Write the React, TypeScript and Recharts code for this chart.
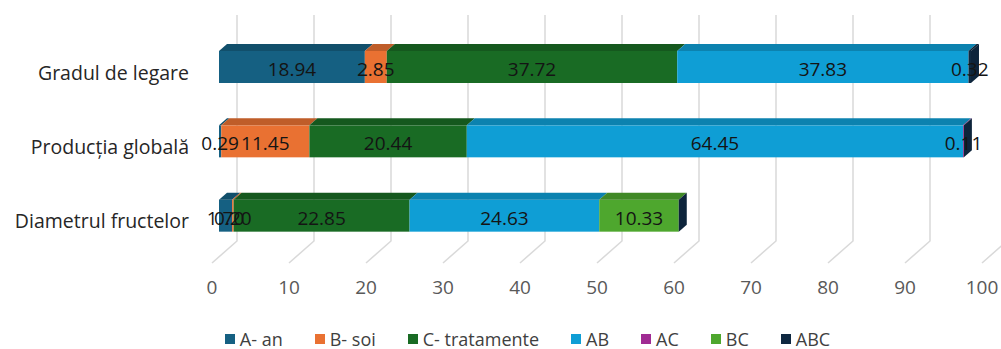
import React from "react";
import {
  BarChart,
  Bar,
  XAxis,
  YAxis,
  CartesianGrid,
  Legend,
  LabelList,
} from "recharts";

const categories = ["Gradul de legare", "Producția globală", "Diametrul fructelor"];
const aAn = [18.94, 0.29, 1.7];
const bSoi = [2.85, 11.45, 0.2];
const cTratamente = [37.72, 20.44, 22.85];
const ab = [37.83, 64.45, 24.63];
const ac = [0, 0.11, 0];
const bc = [0, 0, 10.33];
const abc = [0.32, 0, 0];
const xTicks = [0, 10, 20, 30, 40, 50, 60, 70, 80, 90, 100];

const SERIES = [
  { key: "a", name: "A- an", color: "#156082", values: aAn },
  { key: "b", name: "B- soi", color: "#E97132", values: bSoi },
  { key: "c", name: "C- tratamente", color: "#196B24", values: cTratamente },
  { key: "ab", name: "AB", color: "#0F9ED5", values: ab },
  { key: "ac", name: "AC", color: "#A02B93", values: ac },
  { key: "bc", name: "BC", color: "#4EA72E", values: bc },
  { key: "abc", name: "ABC", color: "#0E2841", values: abc },
];

const data = categories.map((name, i) => {
  const row: Record<string, string | number> = { name };
  for (const s of SERIES) row[s.key] = s.values[i];
  return row;
});

const FONT = "'Open Sans', 'Liberation Sans', sans-serif";
const DX = 8; // 3d depth offset
const DY = 7;

function darken(hex: string, f: number) {
  const n = parseInt(hex.slice(1), 16);
  const r = Math.round(((n >> 16) & 255) * f);
  const g = Math.round(((n >> 8) & 255) * f);
  const b = Math.round((n & 255) * f);
  return `rgb(${r},${g},${b})`;
}

function Box3D(props: any) {
  const { x, y, width, height, fill, isLast } = props;
  if (x == null || y == null) return null;
  const w = Math.max(0, width);
  return (
    <g>
      <rect x={x} y={y} width={w} height={height} fill={fill} />
      <polygon
        points={`${x},${y} ${x + DX},${y - DY} ${x + w + DX},${y - DY} ${x + w},${y}`}
        fill={darken(fill, 0.82)}
      />
      {isLast && (
        <polygon
          points={`${x + w},${y} ${x + w + DX},${y - DY} ${x + w + DX},${y + height - DY} ${x + w},${y + height}`}
          fill={darken("#0E2841", 0.9)}
        />
      )}
    </g>
  );
}

function GridLine(props: any) {
  const { x1, y1, y2 } = props;
  return (
    <path
      d={`M${x1 + 18},${y1 - 15} L${x1 + 18},${y2 - 12} L${x1 - 7},${y2 + 10}`}
      stroke="#d9d9d9"
      strokeWidth={1.5}
      fill="none"
    />
  );
}

function CategoryTick(props: any) {
  const { x, y, payload } = props;
  return (
    <text x={x - 22} y={y + 5} textAnchor="end" dominantBaseline="central" fill="#262626" fontSize={19.5} fontFamily={FONT}>
      {payload.value}
    </text>
  );
}

function ValueTick(props: any) {
  const { x, y, payload } = props;
  return (
    <text x={x - 7} y={y + 26} textAnchor="middle" dominantBaseline="central" fill="#595959" fontSize={19} fontFamily={FONT}>
      {payload.value}
    </text>
  );
}

function ValueLabel(props: any) {
  const { x, y, width, height, value } = props;
  if (!value) return null;
  return (
    <text
      x={x + width / 2}
      y={y + height / 2 + 2}
      textAnchor="middle"
      dominantBaseline="central"
      fill="#141414"
      fontSize={19}
      fontFamily={FONT}
    >
      {Number(value).toFixed(2)}
    </text>
  );
}

function LegendContent() {
  return (
    <div
      style={{
        display: "flex",
        justifyContent: "center",
        gap: 32,
        paddingLeft: 66,
        paddingTop: 14,
        fontFamily: FONT,
        fontSize: 18,
        color: "#404040",
      }}
    >
      {SERIES.map((s) => (
        <div key={s.key} style={{ display: "flex", alignItems: "center", gap: 5 }}>
          <span style={{ width: 10, height: 10, background: s.color, display: "inline-block" }} />
          <span>{s.name}</span>
        </div>
      ))}
    </div>
  );
}

export default function App() {
  return (
    <div style={{ position: "absolute", left: 0, top: 0, width: 1001, height: 349, background: "#fff" }}>
      <BarChart
        width={1001}
        height={349}
        data={data}
        layout="vertical"
        margin={{ top: 30, right: 12, left: 0, bottom: 0 }}
        barSize={32}
      >
        <CartesianGrid horizontal={false} vertical={(p: any) => <GridLine key={p.key} {...p} />} />
        <XAxis
          type="number"
          domain={[0, 100]}
          ticks={xTicks}
          axisLine={false}
          tickLine={false}
          tick={<ValueTick />}
          height={60}
        />
        <YAxis
          type="category"
          dataKey="name"
          width={219}
          axisLine={false}
          tickLine={false}
          tick={<CategoryTick />}
        />
        <Legend verticalAlign="bottom" height={36} content={<LegendContent />} />
        {SERIES.map((s, i) => (
          <Bar
            key={s.key}
            dataKey={s.key}
            name={s.name}
            stackId="t"
            fill={s.color}
            isAnimationActive={false}
            shape={(p: any) => <Box3D {...p} fill={s.color} isLast={i === SERIES.length - 1} />}
          >
            <LabelList dataKey={s.key} content={<ValueLabel />} />
          </Bar>
        ))}
      </BarChart>
    </div>
  );
}
